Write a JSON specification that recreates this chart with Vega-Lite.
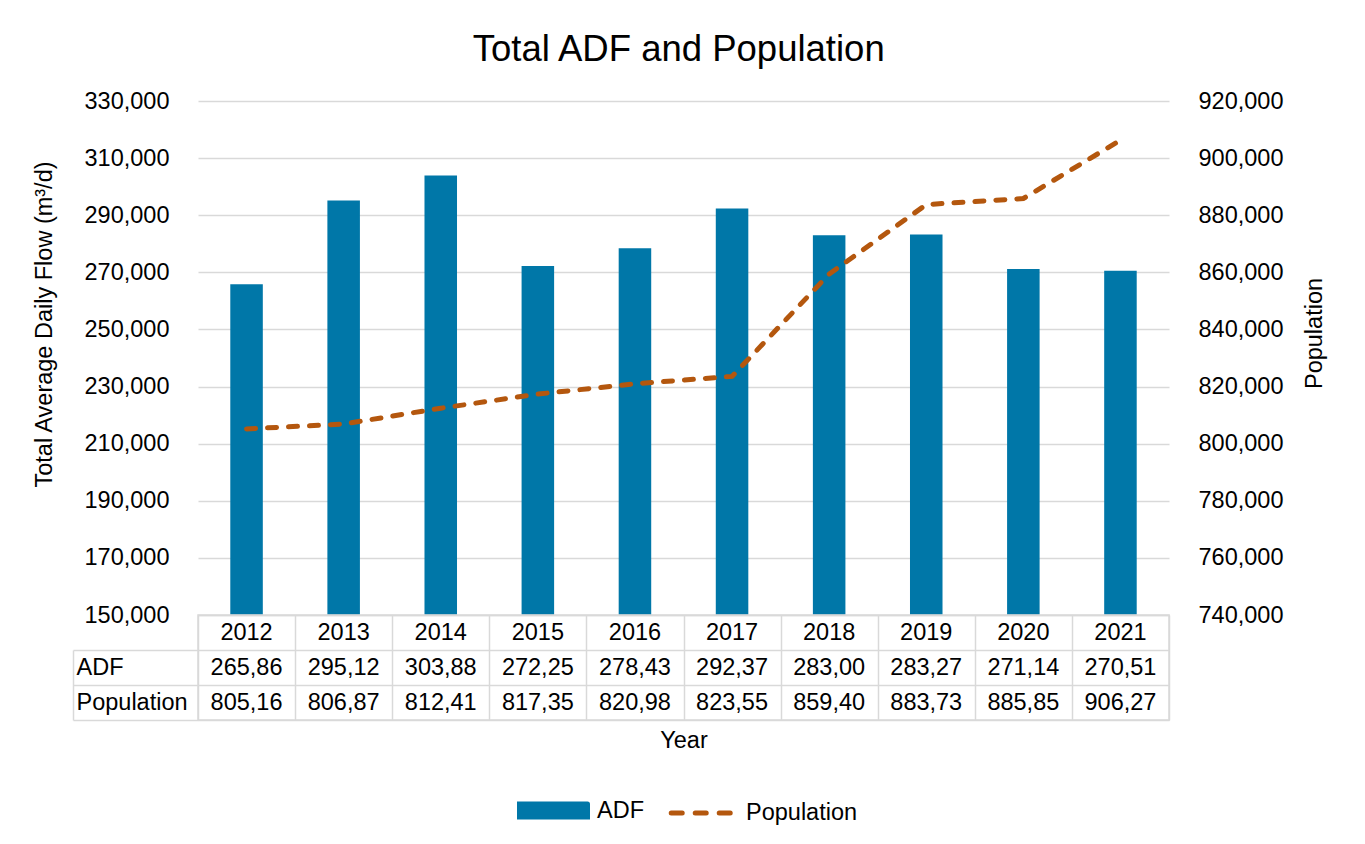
{
  "$schema": "https://vega.github.io/schema/vega-lite/v6.json",
  "background": "white",
  "padding": {"left": 31, "top": 31, "right": 10, "bottom": 10},
  "title": {
    "text": "Total ADF and Population",
    "fontSize": 36.5,
    "fontWeight": "normal",
    "font": "Liberation Sans",
    "color": "#000000",
    "anchor": "middle",
    "offset": 21
  },
  "config": {
    "font": "Liberation Sans",
    "view": {"stroke": null},
    "axis": {
      "labelFont": "Liberation Sans",
      "titleFont": "Liberation Sans",
      "labelFontSize": 23.5,
      "titleFontSize": 23.5,
      "labelColor": "#000000",
      "titleColor": "#000000",
      "titleFontWeight": "normal",
      "gridColor": "#d9d9d9",
      "gridWidth": 1.5,
      "domain": false,
      "ticks": false
    },
    "text": {"font": "Liberation Sans", "fontSize": 23.5, "color": "#000000"}
  },
  "datasets": {
    "flow": [
      {"year": "2012", "ADF": 265865, "Population": 805165},
      {"year": "2013", "ADF": 295125, "Population": 806875},
      {"year": "2014", "ADF": 303885, "Population": 812415},
      {"year": "2015", "ADF": 272255, "Population": 817355},
      {"year": "2016", "ADF": 278435, "Population": 820985},
      {"year": "2017", "ADF": 292375, "Population": 823555},
      {"year": "2018", "ADF": 283005, "Population": 859405},
      {"year": "2019", "ADF": 283275, "Population": 883735},
      {"year": "2020", "ADF": 271145, "Population": 885855},
      {"year": "2021", "ADF": 270515, "Population": 906275}
    ]
  },
  "spacing": 0,
  "bounds": "flush",
  "vconcat": [
    {
      "width": 971,
      "height": 514,
      "data": {"name": "flow"},
      "encoding": {
        "x": {
          "field": "year",
          "type": "ordinal",
          "scale": {"paddingInner": 0, "paddingOuter": 0},
          "axis": null
        }
      },
      "layer": [
        {
          "mark": {"type": "bar", "width": {"band": 0.335}},
          "encoding": {
            "y": {
              "field": "ADF",
              "type": "quantitative",
              "scale": {"domain": [150000, 330000]},
              "axis": {
                "title": "Total Average Daily Flow (m³/d)",
                "values": [150000, 170000, 190000, 210000, 230000, 250000, 270000, 290000, 310000, 330000],
                "format": ",.0f",
                "grid": true,
                "labelPadding": 29,
                "titleAngle": -90,
                "titleAlign": "center",
                "titleBaseline": "middle",
                "titleX": -154,
                "titleY": 223
              }
            },
            "y2": {"datum": 150000},
            "color": {
              "datum": "ADF",
              "type": "nominal",
              "scale": {"domain": ["ADF", "Population"], "range": ["#0077a8", "#b4570e"]},
              "legend": {
                "orient": "none",
                "legendX": 319,
                "legendY": 673,
                "direction": "horizontal",
                "title": null,
                "labelFont": "Liberation Sans",
                "labelFontSize": 23.5,
                "labelColor": "#000000",
                "symbolSize": 4624,
                "columnPadding": 17,
                "labelOffset": 7,
                "encode": {
                  "symbols": {
                    "update": {
                      "shape": {"signal": "datum.value === 'ADF' ? 'M-1,-0.19H1V0.19H-1Z' : 'M-0.92,0H0.92'"},
                      "fill": {"signal": "datum.value === 'ADF' ? '#0077a8' : 'transparent'"},
                      "stroke": {"signal": "datum.value === 'ADF' ? 'transparent' : '#b4570e'"},
                      "strokeWidth": {"value": 5},
                      "strokeCap": {"value": "round"},
                      "strokeDash": {"signal": "datum.value === 'ADF' ? [1, 0] : [11, 13]"},
                      "opacity": {"value": 1}
                    }
                  }
                }
              }
            }
          }
        },
        {
          "mark": {"type": "line", "strokeWidth": 5, "strokeDash": [9, 12], "strokeCap": "round"},
          "encoding": {
            "y": {
              "field": "Population",
              "type": "quantitative",
              "scale": {"domain": [740000, 920000]},
              "axis": {
                "orient": "right",
                "title": "Population",
                "values": [740000, 760000, 780000, 800000, 820000, 840000, 860000, 880000, 900000, 920000],
                "format": ",.0f",
                "grid": false,
                "labelPadding": 29,
                "titleAngle": -90,
                "titleAlign": "center",
                "titleBaseline": "middle",
                "titleX": 145,
                "titleY": 232
              }
            },
            "color": {"datum": "Population", "type": "nominal"}
          }
        }
      ],
      "resolve": {"scale": {"y": "independent"}}
    },
    {
      "width": 971,
      "height": 105,
      "view": {"stroke": "#d9d9d9", "strokeWidth": 1.5},
      "data": {"name": "flow"},
      "encoding": {
        "x": {
          "field": "year",
          "type": "ordinal",
          "scale": {"paddingInner": 0, "paddingOuter": 0},
          "axis": {
            "title": "Year",
            "labels": false,
            "grid": true,
            "tickBand": "extent",
            "titlePadding": 8
          }
        }
      },
      "layer": [
        {
          "mark": {"type": "text"},
          "encoding": {
            "y": {
              "datum": "Year",
              "type": "nominal",
              "scale": {"domain": ["Year", "ADF", "Population"], "paddingInner": 0, "paddingOuter": 0},
              "axis": {
                "title": null,
                "offset": 125,
                "tickBand": "extent",
                "grid": true,
                "ticks": true,
                "tickSize": -125,
                "tickColor": {"condition": {"test": "datum.extra", "value": "transparent"}, "value": "#d9d9d9"},
                "tickWidth": 1.5,
                "domain": true,
                "domainColor": "#d9d9d9",
                "domainWidth": 1.5,
                "domainDash": [0, 35, 70],
                "labelAlign": "left",
                "labelBaseline": "middle",
                "labelPadding": 122,
                "labelExpr": "datum.value == 'Year' ? '' : datum.value"
              }
            },
            "text": {"field": "year"}
          }
        },
        {
          "transform": [
            {"fold": ["ADF", "Population"], "as": ["row", "value"]},
            {"calculate": "slice(format(datum.value, ','), 0, 6)", "as": "cell"}
          ],
          "mark": {"type": "text"},
          "encoding": {
            "y": {"field": "row", "type": "nominal"},
            "text": {"field": "cell"}
          }
        }
      ]
    }
  ]
}
